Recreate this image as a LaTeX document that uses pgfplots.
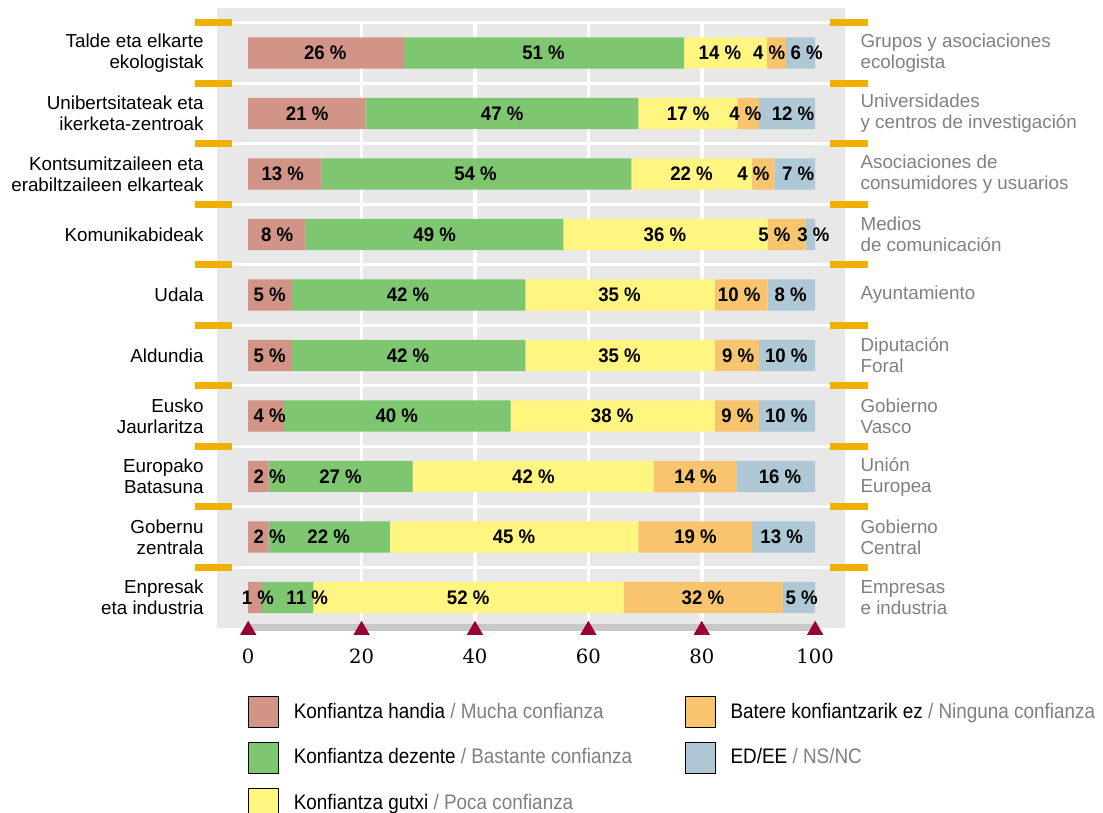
\documentclass[border=0pt]{standalone}
\usepackage{fontspec}
\setmainfont{Liberation Sans}
\newfontfamily\barfont{Liberation Sans}[FakeStretch=0.95]
\newfontfamily\legfont{Liberation Sans}[FakeStretch=0.9]
\newfontfamily\numfont{DejaVu Serif}
\usepackage{pgfplots}
\usepackage{pgfplotstable}
\pgfplotsset{compat=1.18}

\definecolor{cRed}{RGB}{210,148,135}
\definecolor{cGreen}{RGB}{127,198,113}
\definecolor{cYellow}{RGB}{255,245,128}
\definecolor{cOrange}{RGB}{248,197,110}
\definecolor{cBlue}{RGB}{174,200,214}
\definecolor{panelgray}{RGB}{232,232,232}
\definecolor{markorange}{RGB}{240,176,0}
\definecolor{axgray}{RGB}{200,200,200}
\definecolor{tri}{RGB}{153,0,51}
\definecolor{txtgray}{RGB}{128,128,128}

% bar lengths as drawn (row 9 = top)
\pgfplotstableread{
row red green yellow orange blue
9 27.5 49.4 14.6 3.4 5.1
8 20.7 48.1 17.5 3.8 9.9
7 12.9 54.7 21.3 3.9 7.2
6 10.1 45.5 36.0 6.7 1.7
5 7.7 41.2 33.4 9.3 8.4
4 7.7 41.2 33.4 7.8 9.9
3 6.3 40.0 36.0 7.8 9.9
2 3.6 25.4 42.5 14.6 13.9
1 3.6 21.4 43.8 20.1 11.1
0 2.4 9.1 54.7 28.1 5.7
}\bars

% printed percentages and where they sit
\pgfplotstableread{
row pos lab
9 13.6 26
9 52.1 51
9 83.2 14
9 91.9 4
9 98.5 6
8 10.4 21
8 44.8 47
8 77.6 17
8 87.7 4
8 96.1 12
7 6.1 13
7 40.1 54
7 78.2 22
7 89.1 4
7 97.0 7
6 5.1 8
6 32.9 49
6 73.5 36
6 92.8 5
6 99.7 3
5 3.8 5
5 28.2 42
5 65.5 35
5 86.6 10
5 95.7 8
4 3.8 5
4 28.2 42
4 65.5 35
4 86.4 9
4 94.9 10
3 3.8 4
3 26.2 40
3 64.2 38
3 86.3 9
3 94.9 10
2 3.8 2
2 16.3 27
2 50.3 42
2 78.9 14
2 93.8 16
1 3.8 2
1 14.2 22
1 46.9 45
1 78.9 19
1 94.1 13
0 1.7 1
0 10.4 11
0 38.8 52
0 80.2 32
0 97.6 5
}\barlabels

\begin{document}
\begin{tikzpicture}
\useasboundingbox (0,0) rectangle (551.5pt,-406.5pt);
\pgfplotsset{panel/.style={
    scale only axis, width=314.1pt, height=309.9pt,
    xmin=-5.5, xmax=105.3, ymin=-0.5, ymax=9.744,
    clip=false, at={(108.5pt,-4pt)}, anchor=north west,
    axis line style={draw=none}, major tick length=0pt, tick style={draw=none},
    ytick={0,...,9}}}

% background panel, grid and row separators
\begin{axis}[panel, xtick=\empty, ytick=\empty,
    axis background/.style={fill=panelgray}]
\pgfplotsinvokeforeach{20,40,60,80}{
    \draw[white, line width=1.75pt] (axis cs:#1,-0.5) -- (axis cs:#1,9.5);}
\pgfplotsinvokeforeach{0.5,1.5,2.5,3.5,4.5,5.5,6.5,7.5,8.5,9.5}{
    \draw[white, line width=1.7pt] (axis cs:-2.82,#1) -- (axis cs:102.6,#1);
    \draw[markorange, line width=3.5pt] (axis cs:-9.35,#1) -- (axis cs:-2.82,#1);
    \draw[markorange, line width=3.5pt] (axis cs:102.6,#1) -- (axis cs:109.3,#1);}
\end{axis}

% stacked bars
\begin{axis}[panel,
    xbar stacked, bar width=15.65pt,
    xtick={0,20,...,100},
    /pgf/number format/assume math mode=true,
    xticklabel style={font=\numfont\fontsize{9.8}{11}\selectfont, inner sep=0pt, yshift=-10.5pt},
    yticklabels={{Enpresak\\eta industria},{Gobernu\\zentrala},{Europako\\Batasuna},
        {Eusko\\Jaurlaritza},{Aldundia},{Udala},{Komunikabideak},
        {Kontsumitzaileen eta\\erabiltzaileen elkarteak},
        {Unibertsitateak eta\\ikerketa-zentroak},{Talde eta elkarte\\ekologistak}},
    yticklabel style={font=\fontsize{9.4}{10.5}\selectfont, align=right, inner sep=0pt, xshift=-6.5pt},
]
\addplot[fill=cRed, draw=none] table[x=red, y=row]{\bars};
\addplot[fill=cGreen, draw=none] table[x=green, y=row]{\bars};
\addplot[fill=cYellow, draw=none] table[x=yellow, y=row]{\bars};
\addplot[fill=cOrange, draw=none] table[x=orange, y=row]{\bars};
\addplot[fill=cBlue, draw=none] table[x=blue, y=row]{\bars};
\end{axis}

% labels, axis band, right-hand names and legend
\begin{axis}[panel,
    xtick=\empty,
    yticklabel pos=right,
    yticklabels={{Empresas\\e industria},{Gobierno\\Central},{Unión\\Europea},
        {Gobierno\\Vasco},{Diputación\\Foral},{Ayuntamiento},{Medios\\de comunicación},
        {Asociaciones de\\consumidores y usuarios},
        {Universidades\\y centros de investigación},{Grupos y asociaciones\\ecologista}},
    yticklabel style={font=\fontsize{9.4}{10.5}\selectfont, align=left, text=txtgray, inner sep=0pt, xshift=7.5pt},
    legend columns=2,
    legend cell align=left,
    legend style={at={(0.0493,-0.110)}, anchor=north west, draw=none, fill=none,
        inner sep=0pt, outer sep=0pt, row sep=7pt, column sep=0pt,
        font=\legfont\fontsize{10.5}{12}\selectfont, nodes={inner sep=0pt}},
    legend image code/.code={\fill[#1] (0pt,-7.75pt) rectangle (15pt,7.75pt);},
]
\addplot[draw=axgray, line width=3.5pt, mark=none, forget plot] coordinates {(0,-0.5) (100,-0.5)};
\addplot[only marks, mark=triangle*, mark size=4.33pt, color=tri, forget plot]
    coordinates {(0,-0.54) (20,-0.54) (40,-0.54) (60,-0.54) (80,-0.54) (100,-0.54)};
\addplot[draw=none, mark=none, forget plot,
    nodes near coords={\pgfplotspointmeta~\%}, nodes near coords align=center,
    point meta=explicit symbolic,
    nodes near coords style={font=\barfont\bfseries\fontsize{9.8}{12}\selectfont, inner sep=0pt, anchor=center}]
    table[x=pos, y=row, meta=lab]{\barlabels};
\addlegendimage{fill=cRed}
\addlegendentry{\makebox[203pt][l]{\hspace{7.5pt}Konfiantza handia \textcolor{txtgray}{/ Mucha confianza}}}
\addlegendimage{fill=cOrange}
\addlegendentry{\hspace{7.5pt}Batere konfiantzarik ez \textcolor{txtgray}{/ Ninguna confianza}}
\addlegendimage{fill=cGreen}
\addlegendentry{\makebox[203pt][l]{\hspace{7.5pt}Konfiantza dezente \textcolor{txtgray}{/ Bastante confianza}}}
\addlegendimage{fill=cBlue}
\addlegendentry{\hspace{7.5pt}ED/EE \textcolor{txtgray}{/ NS/NC}}
\addlegendimage{fill=cYellow}
\addlegendentry{\makebox[203pt][l]{\hspace{7.5pt}Konfiantza gutxi \textcolor{txtgray}{/ Poca confianza}}}
\end{axis}
\end{tikzpicture}
\end{document}
